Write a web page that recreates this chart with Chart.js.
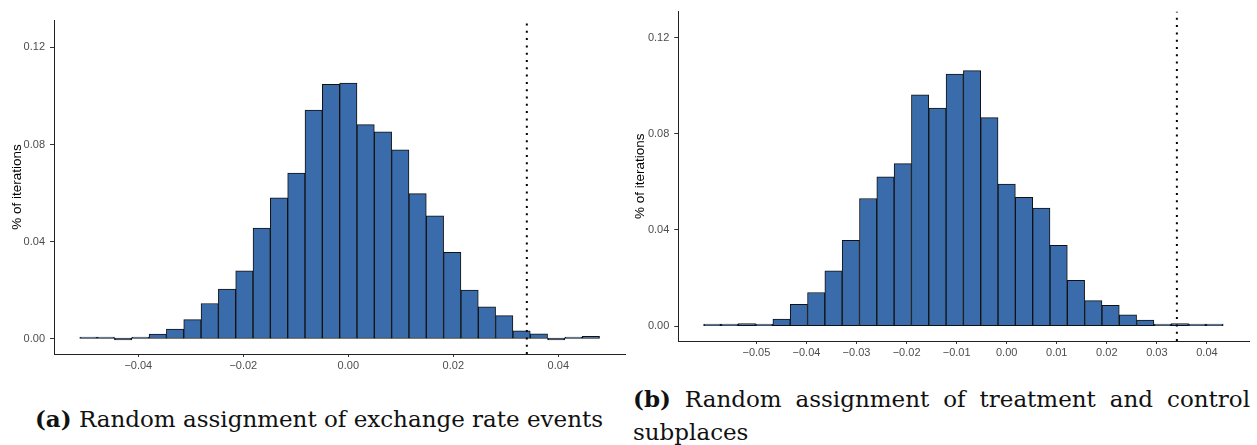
<!DOCTYPE html>
<html>
<head>
<meta charset="utf-8">
<script src="https://cdn.jsdelivr.net/npm/chart.js@4/dist/chart.umd.min.js"></script>
<style>
  body { margin: 0; background: #fff; width: 1257px; height: 445px; position: relative; overflow: hidden; }
  .box { position: absolute; }
  .cap { position: absolute; font-family: "DejaVu Serif", serif; font-size: 23px; color: #111; }
</style>
</head>
<body>
<div class="box" style="left:0;top:0;width:630px;height:380px"><canvas id="chartA"></canvas></div>
<div class="box" style="left:630px;top:0;width:627px;height:367px"><canvas id="chartB"></canvas></div>
<div class="cap" id="capA" style="left:0;width:638px;top:405px;text-align:center;white-space:nowrap"><b>(a)</b> Random assignment of exchange rate events</div>
<div class="cap" id="capB" style="left:633px;width:617px;top:382px;text-align:justify;text-align-last:left;line-height:33px"><b>(b)</b> Random assignment of treatment and control subplaces</div>
<script>
// panel (a): exchange rate events
var binsA = [-0.0495, -0.0462, -0.0429, -0.0396, -0.0363, -0.033, -0.0297, -0.0264, -0.0231, -0.0198,
             -0.0165, -0.0132, -0.0099, -0.0066, -0.0033, 0, 0.0033, 0.0066, 0.0099, 0.0132,
             0.0165, 0.0198, 0.0231, 0.0264, 0.0297, 0.033, 0.0363, 0.0396, 0.0429, 0.0462];
var shareA = [0.0005, 0.0005, 0, 0.0005, 0.002, 0.0041, 0.008, 0.0146, 0.0205, 0.028,
              0.0456, 0.0581, 0.0682, 0.0942, 0.1047, 0.1053, 0.0882, 0.0852, 0.0778, 0.0598,
              0.0507, 0.0356, 0.0201, 0.0132, 0.0096, 0.0034, 0.0021, 0, 0.0005, 0.0011];
var xTicksA = [-0.04, -0.02, 0, 0.02, 0.04];

// panel (b): treatment and control subplaces
var binsB = [-0.05882, -0.05536, -0.0519, -0.04844, -0.04498, -0.04152, -0.03806, -0.0346, -0.03114, -0.02768,
             -0.02422, -0.02076, -0.0173, -0.01384, -0.01038, -0.00692, -0.00346, 0, 0.00346, 0.00692,
             0.01038, 0.01384, 0.0173, 0.02076, 0.02422, 0.02768, 0.03114, 0.0346, 0.03806, 0.04152];
var shareB = [0.0004, 0.0004, 0.0011, 0.0004, 0.0029, 0.0091, 0.014, 0.023, 0.0357, 0.0531,
              0.0621, 0.0676, 0.0963, 0.0907, 0.1049, 0.1063, 0.0868, 0.0591, 0.0536, 0.0491,
              0.0336, 0.0191, 0.0106, 0.0086, 0.0047, 0.0025, 0.0004, 0.0011, 0.0004, 0.0004];
var xTicksB = [-0.05, -0.04, -0.03, -0.02, -0.01, 0, 0.01, 0.02, 0.03, 0.04];

var yTicks = [0, 0.04, 0.08, 0.12];
var observed = 0.034;

function fmt(v, d) {
    var s = Math.abs(v).toFixed(d);
    return v < -1e-9 ? "\u2212" + s : s;
}

function makeChart(id, bins, share, xTicks, xRange, yRange, titlePad, yWidth, pad) {
    var points = bins.map(function (b, i) { return { x: b, y: share[i] }; });
    return new Chart(document.getElementById(id), {
        type: "bar",
        data: {
            datasets: [
                {
                    type: "line",
                    data: [{ x: observed, y: yRange[0] }, { x: observed, y: yRange[1] }],
                    borderColor: "#000",
                    borderWidth: 2,
                    borderDash: [2, 5.3],
                    pointRadius: 0,
                    order: 0
                },
                {
                    data: points,
                    backgroundColor: "#3A6BAA",
                    borderColor: "#111",
                    borderWidth: 1,
                    borderSkipped: false,
                    barPercentage: 1,
                    categoryPercentage: 1,
                    minBarLength: 2,
                    order: 1
                }
            ]
        },
        options: {
            responsive: true,
            maintainAspectRatio: false,
            animation: false,
            layout: { padding: pad },
            plugins: { legend: { display: false }, tooltip: { enabled: false } },
            scales: {
                x: {
                    type: "linear",
                    min: xRange[0],
                    max: xRange[1],
                    offset: false,
                    afterBuildTicks: function (s) { s.ticks = xTicks.map(function (v) { return { value: v }; }); },
                    afterFit: function (s) { s.height = 26; },
                    grid: { offset: false, drawOnChartArea: false, drawTicks: true, tickLength: 3, color: "#333" },
                    border: { display: true, color: "#222", width: 1 },
                    ticks: {
                        padding: 2,
                        color: "#4D4D4D",
                        font: { family: "Liberation Sans", size: 11 },
                        maxRotation: 0,
                        callback: function (v) { return fmt(v, 2); }
                    }
                },
                y: {
                    min: yRange[0],
                    max: yRange[1],
                    afterBuildTicks: function (s) { s.ticks = yTicks.map(function (v) { return { value: v }; }); },
                    afterFit: function (s) { s.width = yWidth; },
                    grid: { drawOnChartArea: false, drawTicks: true, tickLength: 4, color: "#333" },
                    border: { display: true, color: "#222", width: 1 },
                    title: {
                        display: true,
                        text: "% of iterations",
                        color: "#000",
                        font: { family: "Liberation Sans", size: 13.5 },
                        padding: { top: titlePad, bottom: 0 }
                    },
                    ticks: {
                        padding: 5,
                        color: "#4D4D4D",
                        font: { family: "Liberation Sans", size: 11 },
                        callback: function (v) { return fmt(v, 2); }
                    }
                }
            }
        }
    });
}

makeChart("chartA", binsA, shareA, xTicksA, [-0.05606, 0.0527], [-0.00617, 0.1312], 9, 54,
    { left: 0, right: 5, top: 20, bottom: 0 });
makeChart("chartB", binsB, shareB, xTicksB, [-0.06561, 0.04841], [-0.0062, 0.1309], 2, 48.3,
    { left: 0, right: 8, top: 8, bottom: 0 });
</script>
</body>
</html>
